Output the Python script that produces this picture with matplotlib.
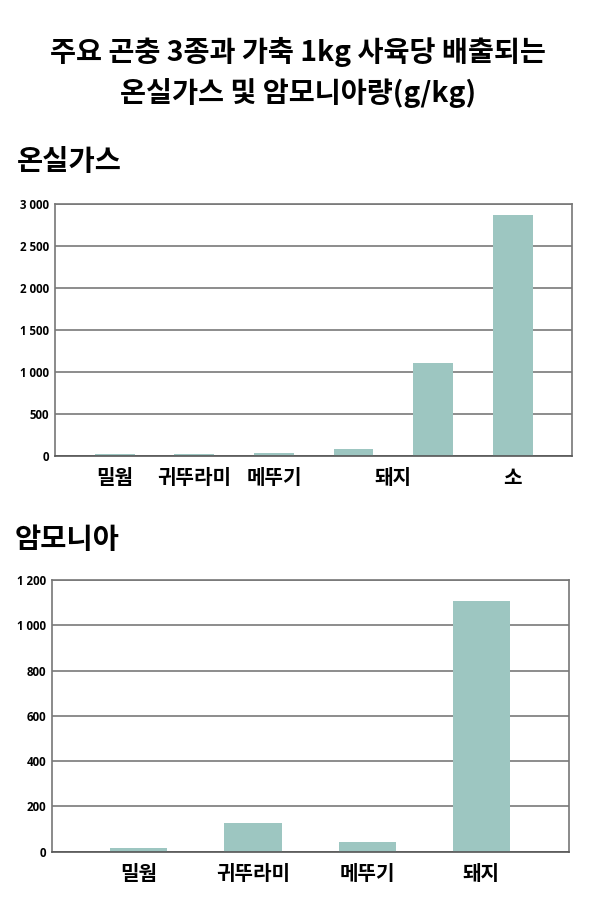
import matplotlib.pyplot as plt
from matplotlib.ticker import FuncFormatter

plt.rcParams['font.family'] = ['Noto Sans CJK KR', 'DejaVu Sans']

# 온실가스 (g/kg)
ghg_values = [25, 20, 40, 80, 1110, 2865]
ghg_labels = ['밀웜', '귀뚜라미', '메뚜기', '돼지', '소']
ghg_label_pos = [0, 1, 2, 3.5, 5]

# 암모니아 (g/kg)
nh3_values = [15, 125, 44, 1109]
nh3_labels = ['밀웜', '귀뚜라미', '메뚜기', '돼지']

bar_color = '#9dc6c1'
grid_color = '#6e6e6e'


def space_thousands(v, pos):
    return f'{int(v):,}'.replace(',', ' ')


def style_axis(ax, ymax, step):
    ax.set_ylim(0, ymax)
    ax.set_yticks(range(0, ymax + 1, step))
    ax.yaxis.set_major_formatter(FuncFormatter(space_thousands))
    ax.grid(axis='y', color=grid_color, linewidth=1.1)
    ax.set_axisbelow(True)
    for s in ax.spines.values():
        s.set_color('#777777')
        s.set_linewidth(1.2)
    ax.spines['bottom'].set_color('#555555')
    ax.tick_params(axis='y', length=0, pad=4, labelsize=8.3)
    ax.tick_params(axis='x', length=0, pad=8, labelsize=14.5)
    for t in ax.get_yticklabels():
        t.set_fontweight('bold')
        t.set_family(['Open Sans', 'DejaVu Sans'])
    for t in ax.get_xticklabels():
        t.set_fontweight('heavy')


fig = plt.figure(figsize=(5.92, 9.16), dpi=100)

fig.text(0.503, 0.943, '주요 곤충 3종과 가축 1kg 사육당 배출되는',
         ha='center', va='center', fontsize=20.4, fontweight='heavy')
fig.text(0.503, 0.898, '온실가스 및 암모니아량(g/kg)',
         ha='center', va='center', fontsize=20.4, fontweight='heavy')

# 온실가스
fig.text(0.028, 0.823, '온실가스', ha='left', va='center',
         fontsize=20.5, fontweight='heavy')
ax1 = fig.add_axes([0.0929, 0.5022, 0.8741, 0.2751])
ax1.bar(range(len(ghg_values)), ghg_values, width=0.5, color=bar_color)
ax1.set_xlim(-0.75, len(ghg_values) - 0.25)
ax1.set_xticks(ghg_label_pos)
ax1.set_xticklabels(ghg_labels)
style_axis(ax1, 3000, 500)

# 암모니아
fig.text(0.024, 0.411, '암모니아', ha='left', va='center',
         fontsize=20.5, fontweight='heavy')
ax2 = fig.add_axes([0.0878, 0.0702, 0.8739, 0.2966])
ax2.bar(range(len(nh3_values)), nh3_values, width=0.5, color=bar_color)
ax2.set_xlim(-0.76, len(nh3_values) - 0.23)
ax2.set_xticks(range(len(nh3_labels)))
ax2.set_xticklabels(nh3_labels)
style_axis(ax2, 1200, 200)

fig.savefig('out.png', dpi=100)
